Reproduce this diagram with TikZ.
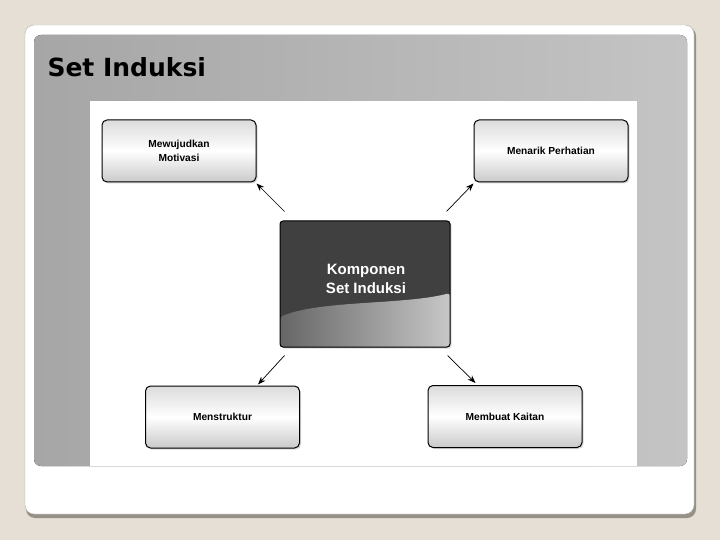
\documentclass[tikz,border=0pt]{standalone}
\usepackage{fontspec}
\newfontfamily\titlefont{DejaVu Sans}
\newfontfamily\boxfont{Liberation Sans}
\usetikzlibrary{arrows.meta,shadows}
\definecolor{beige}{RGB}{229,223,213}
\definecolor{rimgray}{RGB}{150,145,136}
\definecolor{panelL}{RGB}{166,166,166}
\definecolor{panelR}{RGB}{196,196,196}
\definecolor{darkbox}{RGB}{64,64,64}
\begin{document}
\begin{tikzpicture}[x=1pt,y=-1pt,
    item/.style={draw=black,line width=1pt,rounded corners=5pt,minimum width=154pt,minimum height=62pt,
      top color=gray!28,bottom color=gray!42,middle color=white,
      drop shadow={opacity=0.3,shadow xshift=1.5pt,shadow yshift=-1.5pt},
      font=\boxfont\bfseries\fontsize{10.2}{13.5}\selectfont,align=center},
    arr/.style={-{Stealth[length=8pt,width=6pt]},line width=0.7pt}]
  % slide
  \fill[beige] (0,0) rectangle (720,540);
  \useasboundingbox (0,0) rectangle (720,540);
  \fill[rimgray,rounded corners=9pt] (26,27) rectangle (696,518);
  \filldraw[white,draw=gray!60,rounded corners=9pt] (25,25) rectangle (694,514);
  \fill[left color=panelL,right color=panelR,rounded corners=7pt] (34,35) rectangle (687,466);
  \fill[white] (90,101) rectangle (637,466);
  \node[font=\titlefont\bfseries\fontsize{25}{28}\selectfont,anchor=west] (title) at (44,67) {Set Induksi};
  % components
  \node[draw=black,line width=1pt,rounded corners=3pt,fill=darkbox,minimum width=170pt,minimum height=126pt,
    drop shadow={opacity=0.3,shadow xshift=1.5pt,shadow yshift=-1.5pt},
    path picture={\fill[left color=black!60,right color=black!22]
      ([yshift=-33pt]path picture bounding box.west) .. controls +(40,-17) and +(-45,12) .. ([yshift=-9pt]path picture bounding box.east)
      -- (path picture bounding box.south east) -- (path picture bounding box.south west) -- cycle;}] (komp) at (365,284) {};
  \node[text=white,font=\boxfont\bfseries\fontsize{15}{19}\selectfont,align=center] (kompt) at (366,279) {Komponen\\Set Induksi};
  \node[item] (mm) at (179,151) {Mewujudkan\\Motivasi};
  \node[item] (mp) at (551,151) {Menarik Perhatian};
  \node[item] (ms) at (222.5,417) {Menstruktur};
  \node[item] (mk) at (505,416.5) {Membuat Kaitan};
  % arrows
  \coordinate (s1) at ([shift={(5,-9)}]komp.north west);
  \coordinate (s2) at ([shift={(-4,-9)}]komp.north east);
  \coordinate (s3) at ([shift={(5,8)}]komp.south west);
  \coordinate (s4) at ([shift={(-3,8)}]komp.south east);
  \draw[arr] (s1) -- ([shift={(0,1)}]mm.south east);
  \draw[arr] (s2) -- ([shift={(0,1)}]mp.south west);
  \draw[arr] (s3) -- ([shift={(-42,-1)}]ms.north east);
  \draw[arr] (s4) -- ([shift={(48,-2)}]mk.north west);
\end{tikzpicture}
\end{document}
